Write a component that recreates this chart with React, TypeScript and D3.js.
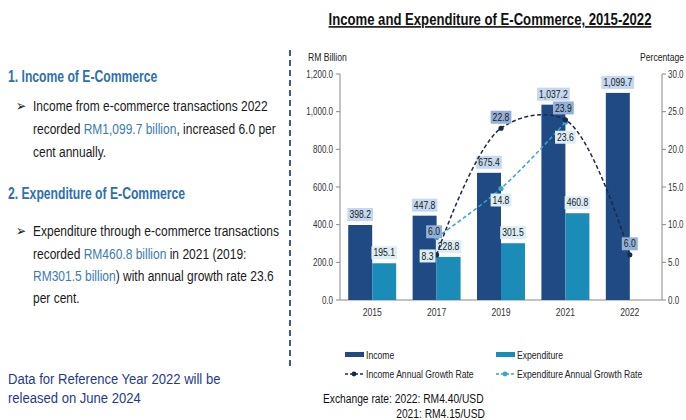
import React from 'react';
import * as d3 from 'd3';

// chart values
const years = ['2015', '2017', '2019', '2021', '2022'];
const income = [398.2, 447.8, 675.4, 1037.2, 1099.7];
const expenditure: (number | null)[] = [195.1, 228.8, 301.5, 460.8, null];
const incomeGrowth: (number | null)[] = [null, 6.0, 22.8, 23.9, 6.0];
const expenditureGrowth: (number | null)[] = [null, 8.3, 14.8, 23.6, null];
const leftTicks = [0, 200, 400, 600, 800, 1000, 1200];
const rightTicks = [0, 5, 10, 15, 20, 25, 30];
const series = ['Income', 'Expenditure'];

const FONT = "'Liberation Sans', Arial, sans-serif";
const C_INCOME = '#1f4a84';
const C_EXP = '#1b8cb8';
const C_INC_LINE = '#1c2a4a';
const C_EXP_LINE = '#3aa3c8';
const NARROW = 0.82;

const plot = { left: 340, right: 662, top: 74, bottom: 300 };

// rough width of a number label once squeezed
const textW = (s: string, fs: number) =>
  s.split('').reduce((w, ch) => w + (ch === '.' || ch === ',' ? 0.278 : 0.556) * fs * NARROW, 0);

// no narrow font installed, so squeeze regular text horizontally
const NText = ({ x, y, sx = NARROW, children, ...rest }: any) => (
  <text transform={`translate(${x},${y}) scale(${sx},1)`} {...rest}>
    {children}
  </text>
);

const Label = ({ x, y, text, fill }: { x: number; y: number; text: string; fill: string }) => {
  const w = textW(text, 10.5) + 4;
  return (
    <g>
      <rect x={x - w / 2} y={y - 6.5} width={w} height={13} fill={fill} />
      <NText x={x} y={y} dy="0.35em" textAnchor="middle" fontSize={10.5} fill="#1a1a1a">
        {text}
      </NText>
    </g>
  );
};

export default function App() {
  const x = d3.scaleBand<string>().domain(years).range([plot.left, plot.right]).paddingInner(0.255).paddingOuter(0.1275);
  const xs = d3.scaleBand<string>().domain(series).range([0, x.bandwidth()]);
  const yL = d3.scaleLinear().domain([0, 1200]).range([plot.bottom, plot.top]);
  const yR = d3.scaleLinear().domain([0, 30]).range([plot.bottom, plot.top]);
  const cx = (yr: string) => (x(yr) as number) + x.bandwidth() / 2;

  const fmtL = d3.format(',.1f');
  const fmtR = d3.format('.1f');

  type P = { yr: string; v: number; i: number };
  const toPts = (arr: (number | null)[]): P[] =>
    arr.map((v, i) => ({ yr: years[i], v: v as number, i })).filter((d) => d.v != null);
  const incPts = toPts(incomeGrowth);
  const expPts = toPts(expenditureGrowth);

  const line = d3
    .line<P>()
    .x((d) => cx(d.yr))
    .y((d) => yR(d.v))
    .curve(d3.curveCatmullRom.alpha(0.5));

  // label nudges for the growth-rate labels (placed by hand in the original)
  const incOffset = (i: number) => (i === 1 ? [-2.5, -23] : i === 3 ? [-2, -12] : [0, -11]);
  const expOffset = (i: number) => (i === 1 ? [-9, 18.5] : i === 3 ? [0, 15] : [0, 11.5]);

  const body = { fontSize: 15, fill: '#1a1a1a', sx: 0.8 };
  const head = { fontSize: 16, fontWeight: 'bold', fill: '#2e6fb0', sx: 0.76 };
  const hl = '#3b7bb0';

  return (
    <svg
      width={686}
      height={420}
      style={{ position: 'absolute', left: 0, top: 0, background: '#fff' }}
      fontFamily={FONT}
    >
      {/* left panel */}
      <NText x={8} y={82} {...head}>1. Income of E-Commerce</NText>
      <NText x={16} y={111} {...body}>➢</NText>
      <NText x={33} y={111} {...body}>Income from e-commerce transactions 2022</NText>
      <NText x={33} y={134} {...body}>
        recorded <tspan fill={hl}>RM1,099.7 billion</tspan>, increased 6.0 per
      </NText>
      <NText x={33} y={157} {...body}>cent annually.</NText>

      <NText x={8} y={199} {...head}>2. Expenditure of E-Commerce</NText>
      <NText x={16} y={236} {...body}>➢</NText>
      <NText x={33} y={236} {...body}>Expenditure through e-commerce transactions</NText>
      <NText x={33} y={259} {...body}>
        recorded <tspan fill={hl}>RM460.8 billion</tspan> in 2021 (2019:
      </NText>
      <NText x={33} y={281} {...body}>
        <tspan fill={hl}>RM301.5 billion</tspan>) with annual growth rate 23.6
      </NText>
      <NText x={33} y={303} {...body}>per cent.</NText>

      <NText x={8} y={384} sx={0.87} fontSize={15} fill="#1f3a8c">Data for Reference Year 2022 will be</NText>
      <NText x={8} y={403} sx={0.87} fontSize={15} fill="#1f3a8c">released on June 2024</NText>

      {/* separator */}
      <line x1={290} x2={290} y1={50} y2={366} stroke="#3f5f86" strokeWidth={2} strokeDasharray="6,4" />

      {/* title */}
      <NText x={490} y={25} textAnchor="middle" fontSize={16} fontWeight="bold" fill="#111" textDecoration="underline">
        Income and Expenditure of E-Commerce, 2015-2022
      </NText>

      {/* axis titles */}
      <NText x={308} y={61} fontSize={10.5} fill="#222">RM Billion</NText>
      <NText x={684} y={61} fontSize={10.5} fill="#222" textAnchor="end">Percentage</NText>

      {/* left axis */}
      <line x1={plot.left} x2={plot.left} y1={plot.top} y2={plot.bottom} stroke="#888" />
      {leftTicks.map((t) => (
        <g key={'l' + t}>
          <line x1={plot.left - 4} x2={plot.left} y1={yL(t)} y2={yL(t)} stroke="#888" />
          <NText x={plot.left - 7} y={yL(t)} sx={0.8} dy="0.35em" textAnchor="end" fontSize={10} fill="#333">
            {fmtL(t)}
          </NText>
        </g>
      ))}

      {/* right axis */}
      <line x1={plot.right} x2={plot.right} y1={plot.top} y2={plot.bottom} stroke="#888" />
      {rightTicks.map((t) => (
        <g key={'r' + t}>
          <line x1={plot.right} x2={plot.right + 4} y1={yR(t)} y2={yR(t)} stroke="#888" />
          <NText x={plot.right + 6} y={yR(t)} sx={0.8} dy="0.35em" fontSize={10} fill="#333">
            {fmtR(t)}
          </NText>
        </g>
      ))}

      {/* bottom axis */}
      <line x1={plot.left} x2={plot.right} y1={plot.bottom} y2={plot.bottom} stroke="#888" />
      {years.map((yr) => (
        <NText key={'x' + yr} x={cx(yr)} y={316} textAnchor="middle" fontSize={10.5} fill="#333">
          {yr}
        </NText>
      ))}

      {/* bars */}
      {years.map((yr, i) => {
        const bx = x(yr) as number;
        const e = expenditure[i];
        return (
          <g key={'b' + yr}>
            <rect
              x={bx + (xs('Income') as number)}
              y={yL(income[i])}
              width={xs.bandwidth()}
              height={plot.bottom - yL(income[i])}
              fill={C_INCOME}
            />
            {e != null && (
              <rect
                x={bx + (xs('Expenditure') as number)}
                y={yL(e)}
                width={xs.bandwidth()}
                height={plot.bottom - yL(e)}
                fill={C_EXP}
              />
            )}
          </g>
        );
      })}

      {/* bar value labels */}
      {years.map((yr, i) => {
        const bx = x(yr) as number;
        const e = expenditure[i];
        return (
          <g key={'bl' + yr}>
            <Label
              x={bx + (xs('Income') as number) + xs.bandwidth() / 2}
              y={yL(income[i]) - 10.5}
              text={fmtL(income[i])}
              fill="#c5d8ef"
            />
            {e != null && (
              <Label
                x={bx + (xs('Expenditure') as number) + xs.bandwidth() / 2}
                y={yL(e) - 10.5}
                text={fmtL(e)}
                fill="#dcedf4"
              />
            )}
          </g>
        );
      })}

      {/* growth lines */}
      <path d={line(expPts) as string} fill="none" stroke={C_EXP_LINE} strokeWidth={1.5} strokeDasharray="4,2.5" />
      <path d={line(incPts) as string} fill="none" stroke={C_INC_LINE} strokeWidth={1.5} strokeDasharray="4,2.5" />
      {expPts.map((d) => (
        <circle key={'ep' + d.yr} cx={cx(d.yr)} cy={yR(d.v)} r={2.6} fill={C_EXP_LINE} />
      ))}
      {incPts.map((d) => (
        <circle key={'ip' + d.yr} cx={cx(d.yr)} cy={yR(d.v)} r={2.6} fill={C_INC_LINE} />
      ))}

      {/* growth labels */}
      {incPts.map((d) => {
        const [dx, dy] = incOffset(d.i);
        return <Label key={'il' + d.yr} x={cx(d.yr) + dx} y={yR(d.v) + dy} text={fmtR(d.v)} fill="#93b1d8" />;
      })}
      {expPts.map((d) => {
        const [dx, dy] = expOffset(d.i);
        return <Label key={'el' + d.yr} x={cx(d.yr) + dx} y={yR(d.v) + dy} text={fmtR(d.v)} fill="#dcedf4" />;
      })}

      {/* legend */}
      <rect x={345} y={352} width={19} height={5} fill={C_INCOME} />
      <NText x={366} y={355} dy="0.35em" fontSize={10.5} fill="#222">Income</NText>
      <rect x={496} y={352} width={19} height={5} fill={C_EXP} />
      <NText x={517} y={355} dy="0.35em" fontSize={10.5} fill="#222">Expenditure</NText>

      <line x1={345} x2={364} y1={374} y2={374} stroke={C_INC_LINE} strokeWidth={1.3} strokeDasharray="3,2" />
      <circle cx={354} cy={374} r={2.4} fill={C_INC_LINE} />
      <NText x={366} y={374} dy="0.35em" fontSize={10.5} fill="#222">Income Annual Growth Rate</NText>
      <line x1={496} x2={515} y1={374} y2={374} stroke={C_EXP_LINE} strokeWidth={1.3} strokeDasharray="3,2" />
      <circle cx={505} cy={374} r={2.4} fill={C_EXP_LINE} />
      <NText x={517} y={374} dy="0.35em" fontSize={10.5} fill="#222">Expenditure Annual Growth Rate</NText>

      <NText x={323} y={403} fontSize={12.5} fill="#111">Exchange rate: 2022: RM4.40/USD</NText>
      <NText x={485} y={418} fontSize={12.5} fill="#111" textAnchor="end">2021: RM4.15/USD</NText>
    </svg>
  );
}
